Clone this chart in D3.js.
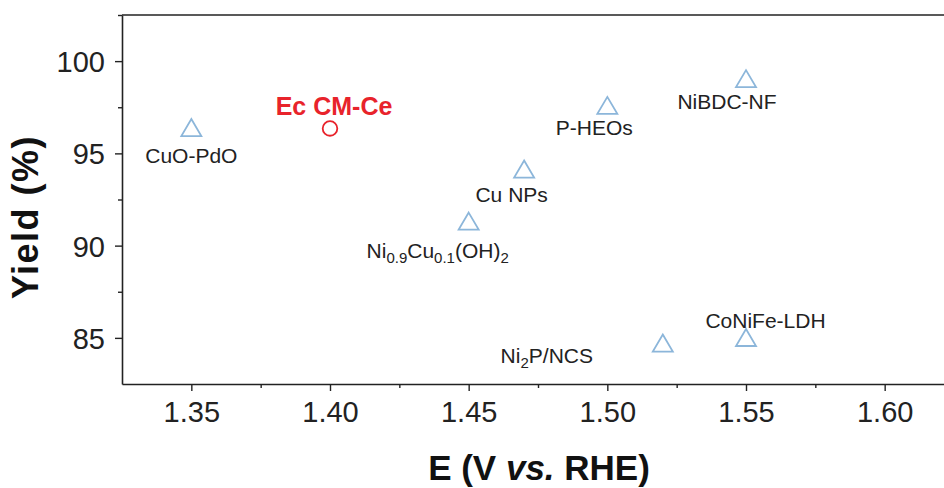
<!DOCTYPE html>
<html><head><meta charset="utf-8">
<script src="https://cdn.jsdelivr.net/npm/d3@7"></script>
<style>html,body{margin:0;padding:0;background:#fff;overflow:hidden}svg{display:block}</style>
</head><body>
<svg id="chart" width="944" height="488"></svg>
<script>
// ---- data ----
const materials = ["CuO-PdO", "Ec CM-Ce", "Ni_{0.9}Cu_{0.1}(OH)_{2}", "Cu NPs", "P-HEOs", "NiBDC-NF", "Ni_{2}P/NCS", "CoNiFe-LDH"];
const potentials = [1.35, 1.40, 1.45, 1.47, 1.50, 1.55, 1.52, 1.55];
const yields = [96.4, 96.35, 91.33, 94.15, 97.6, 99.05, 84.72, 85.02];
const isThisWork = [false, true, false, false, false, false, false, false];
const xTicks = [1.35, 1.40, 1.45, 1.50, 1.55, 1.60];
const xMinorTicks = [1.375, 1.425, 1.475, 1.525, 1.575, 1.625];
const yTicks = [85, 90, 95, 100];
const yMinorTicks = [87.5, 92.5, 97.5, 102.5];

// ---- layout / style ----
const svg = d3.select("#chart");
const FONT = "'Liberation Sans', Arial, Helvetica, sans-serif";
const AX = "#222";
const BLUE = "#8cb6da";
const RED = "#e8232b";
const x = d3.scaleLinear().domain([1.325, 1.625]).range([122, 954]);
const y = d3.scaleLinear().domain([82.5, 102.5]).range([384, 15]);

// frame top line
svg.append("line").attr("x1", x(1.325)).attr("x2", x(1.625)).attr("y1", y(102.5)).attr("y2", y(102.5))
  .attr("stroke", AX).attr("stroke-width", 1.6);

function styleAxis(g) {
  g.selectAll("path").attr("stroke", AX).attr("stroke-width", 1.6);
  g.selectAll("line").attr("stroke", AX).attr("stroke-width", 1.4);
  g.selectAll("text").attr("fill", "#222").attr("font-family", FONT).attr("font-size", 29);
}

// x axis
const gx = svg.append("g").attr("transform", `translate(0,${y(82.5)})`)
  .call(d3.axisBottom(x).tickValues(xTicks).tickFormat(d3.format(".2f")).tickSizeInner(7).tickSizeOuter(0).tickPadding(10));
styleAxis(gx);
svg.append("g").attr("transform", `translate(0,${y(82.5)})`)
  .call(d3.axisBottom(x).tickValues(xMinorTicks).tickFormat("").tickSizeInner(4).tickSizeOuter(0))
  .call(g => { g.select("path").remove(); g.selectAll("line").attr("stroke", AX).attr("stroke-width", 1.4); });

// y axis
const gy = svg.append("g").attr("transform", `translate(${x(1.325)},0)`)
  .call(d3.axisLeft(y).tickValues(yTicks).tickFormat(d3.format("d")).tickSizeInner(7).tickSizeOuter(0).tickPadding(10));
styleAxis(gy);
gy.selectAll(".tick text").attr("dy", "0.36em");
svg.append("g").attr("transform", `translate(${x(1.325)},0)`)
  .call(d3.axisLeft(y).tickValues(yMinorTicks).tickFormat("").tickSizeInner(4).tickSizeOuter(0))
  .call(g => { g.select("path").remove(); g.selectAll("line").attr("stroke", AX).attr("stroke-width", 1.4); });

// axis titles
const xt = svg.append("text").attr("x", 539).attr("y", 480).attr("text-anchor", "middle")
  .attr("font-family", FONT).attr("font-weight", "bold").attr("font-size", 35).attr("fill", "#111");
xt.append("tspan").text("E (V ");
xt.append("tspan").attr("font-style", "italic").text("vs.");
xt.append("tspan").text(" RHE)");

svg.append("text").attr("transform", "translate(38,217) rotate(-90)").attr("text-anchor", "middle")
  .attr("font-family", FONT).attr("font-weight", "bold").attr("font-size", 36).attr("letter-spacing", 1.5)
  .attr("fill", "#111").text("Yield (%)");

// points
const pts = materials.map((m, i) => ({ name: m, e: potentials[i], yv: yields[i], own: isThisWork[i] }));
const triPath = (s, h) => `M0,${-h / 2}L${s / 2},${h / 2}L${-s / 2},${h / 2}Z`;
svg.append("g").selectAll("path").data(pts.filter(d => !d.own)).join("path")
  .attr("transform", d => `translate(${x(d.e)},${y(d.yv)})`)
  .attr("d", triPath(20, 17)).attr("fill", "none").attr("stroke", BLUE).attr("stroke-width", 1.8)
  .attr("stroke-linejoin", "miter");
svg.append("g").selectAll("circle").data(pts.filter(d => d.own)).join("circle")
  .attr("cx", d => x(d.e)).attr("cy", d => y(d.yv)).attr("r", 7.3)
  .attr("fill", "none").attr("stroke", RED).attr("stroke-width", 1.8);

// labels (offset from their marker: dx to text centre, dy to baseline)
const labelOffsets = [[0, 35.5], [4, -13.5], [-31, 37], [-12.5, 32.7], [-13, 30], [-19, 30], [-116, 20], [19.5, -9.5]];
pts.forEach((d, i) => {
  const t = svg.append("text")
    .attr("x", x(d.e) + labelOffsets[i][0]).attr("y", y(d.yv) + labelOffsets[i][1])
    .attr("text-anchor", "middle").attr("font-family", FONT)
    .attr("font-size", d.own ? 25 : 21).attr("font-weight", d.own ? "bold" : "normal")
    .attr("fill", d.own ? RED : "#222");
  const parts = d.name.split(/(_\{[^}]*\})/).filter(s => s.length);
  let sub = false;
  parts.forEach(p => {
    if (p.startsWith("_{")) {
      t.append("tspan").attr("font-size", 15).attr("dy", 5).text(p.slice(2, -1));
      sub = true;
    } else {
      t.append("tspan").attr("dy", sub ? -5 : 0).text(p);
      sub = false;
    }
  });
});
</script>
</body></html>
